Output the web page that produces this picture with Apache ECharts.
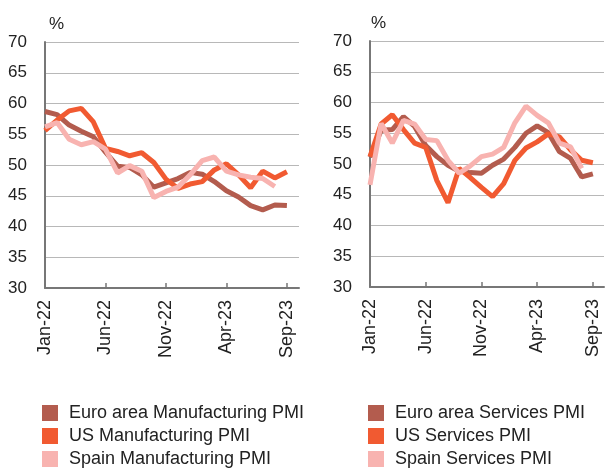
<!DOCTYPE html>
<html>
<head>
<meta charset="utf-8">
<script src="https://cdn.jsdelivr.net/npm/echarts@6/dist/echarts.min.js"></script>
<style>
  html, body { margin: 0; padding: 0; background: #fff; }
  #chart { width: 606px; height: 470px; }
</style>
</head>
<body>
<div id="chart"></div>
<script>
// months shown on both panels (Oct-23 only pads the axis)
const months = ['Jan-22', 'Feb-22', 'Mar-22', 'Apr-22', 'May-22', 'Jun-22', 'Jul-22', 'Aug-22', 'Sep-22', 'Oct-22', 'Nov-22', 'Dec-22',
  'Jan-23', 'Feb-23', 'Mar-23', 'Apr-23', 'May-23', 'Jun-23', 'Jul-23', 'Aug-23', 'Sep-23', 'Oct-23'];

// manufacturing PMI
const euroManufacturing = [58.7, 58.2, 56.5, 55.5, 54.6, 52.1, 49.8, 49.6, 48.4, 46.4, 47.1, 47.8, 48.8, 48.5, 47.3, 45.8, 44.8, 43.4, 42.7, 43.5, 43.4];
const usManufacturing = [55.6, 57.3, 58.8, 59.2, 57.0, 52.7, 52.2, 51.5, 52.0, 50.4, 47.7, 46.2, 46.9, 47.3, 49.2, 50.2, 48.4, 46.3, 49.0, 47.9, 48.9];
const spainManufacturing = [56.2, 56.9, 54.2, 53.3, 53.8, 52.6, 48.7, 49.9, 49.0, 44.7, 45.7, 46.4, 48.4, 50.7, 51.3, 49.0, 48.4, 48.0, 47.8, 46.5];

// services PMI
const euroServices = [51.1, 55.5, 55.6, 57.7, 56.1, 53.0, 51.2, 49.8, 48.8, 48.6, 48.5, 49.8, 50.8, 52.7, 55.0, 56.2, 55.1, 52.0, 50.9, 47.9, 48.4];
const usServices = [51.2, 56.5, 58.0, 55.6, 53.4, 52.7, 47.3, 43.7, 49.3, 47.8, 46.2, 44.7, 46.8, 50.6, 52.6, 53.6, 54.9, 54.4, 52.3, 50.6, 50.2];
const spainServices = [46.6, 56.6, 53.4, 57.1, 56.5, 54.0, 53.8, 50.6, 48.5, 49.7, 51.2, 51.6, 52.7, 56.7, 59.4, 57.9, 56.7, 53.4, 52.8, 49.3];

const manufacturingNames = ['Euro area Manufacturing PMI', 'US Manufacturing PMI', 'Spain Manufacturing PMI'];
const servicesNames = ['Euro area Services PMI', 'US Services PMI', 'Spain Services PMI'];

const colors = ['#b35c4e', '#f15a31', '#f8b3b0'];
const font = '"Liberation Sans", Arial, Helvetica, sans-serif';

const echart = echarts.init(document.getElementById('chart'), null, { renderer: 'canvas' });

function makeX(gridIndex) {
  return {
    type: 'category',
    gridIndex: gridIndex,
    data: months,
    boundaryGap: false,
    axisLine: { lineStyle: { color: '#777', width: 2 } },
    axisTick: { show: true, inside: true, length: 5, interval: 4, lineStyle: { color: '#777', width: 1.5 } },
    axisLabel: { interval: 4, rotate: 90, margin: 12, fontSize: 18, color: '#222', fontFamily: font },
    splitLine: { show: false }
  };
}

function makeY(gridIndex, namePad) {
  return {
    type: 'value',
    gridIndex: gridIndex,
    min: 30,
    max: 70,
    interval: 5,
    name: '%',
    nameLocation: 'end',
    nameGap: 9,
    nameTextStyle: { fontSize: 17, color: '#222', fontFamily: font, align: 'left', padding: [0, 0, 0, namePad] },
    axisLine: { show: true, lineStyle: { color: '#777', width: 2 } },
    axisTick: { show: false },
    axisLabel: { margin: 18, fontSize: 17, color: '#222', fontFamily: font },
    splitLine: { show: true, lineStyle: { color: '#b8b8b8', width: 1 } }
  };
}

function makeLine(name, data, color, axisIndex) {
  return {
    name: name,
    type: 'line',
    xAxisIndex: axisIndex,
    yAxisIndex: axisIndex,
    data: data,
    showSymbol: false,
    symbol: 'none',
    lineStyle: { color: color, width: 5 },
    itemStyle: { color: color },
    animation: false
  };
}

function makeLegend(names, left) {
  return {
    orient: 'vertical',
    left: left,
    top: 404,
    padding: 0,
    itemWidth: 16,
    itemHeight: 16,
    itemGap: 5,
    icon: 'rect',
    data: names,
    textStyle: { fontSize: 18, color: '#222', fontFamily: font, padding: [0, 0, 0, 6] }
  };
}

echart.setOption({
  animation: false,
  color: colors,
  grid: [
    { left: 45, top: 42, width: 254, height: 246 },
    { left: 370, top: 41, width: 234, height: 246 }
  ],
  xAxis: [makeX(0), makeX(1)],
  yAxis: [makeY(0, 4), makeY(1, 1)],
  legend: [makeLegend(manufacturingNames, 42), makeLegend(servicesNames, 368)],
  series: [
    makeLine(manufacturingNames[0], euroManufacturing, colors[0], 0),
    makeLine(manufacturingNames[1], usManufacturing, colors[1], 0),
    makeLine(manufacturingNames[2], spainManufacturing, colors[2], 0),
    makeLine(servicesNames[0], euroServices, colors[0], 1),
    makeLine(servicesNames[1], usServices, colors[1], 1),
    makeLine(servicesNames[2], spainServices, colors[2], 1)
  ]
});
</script>
</body>
</html>
